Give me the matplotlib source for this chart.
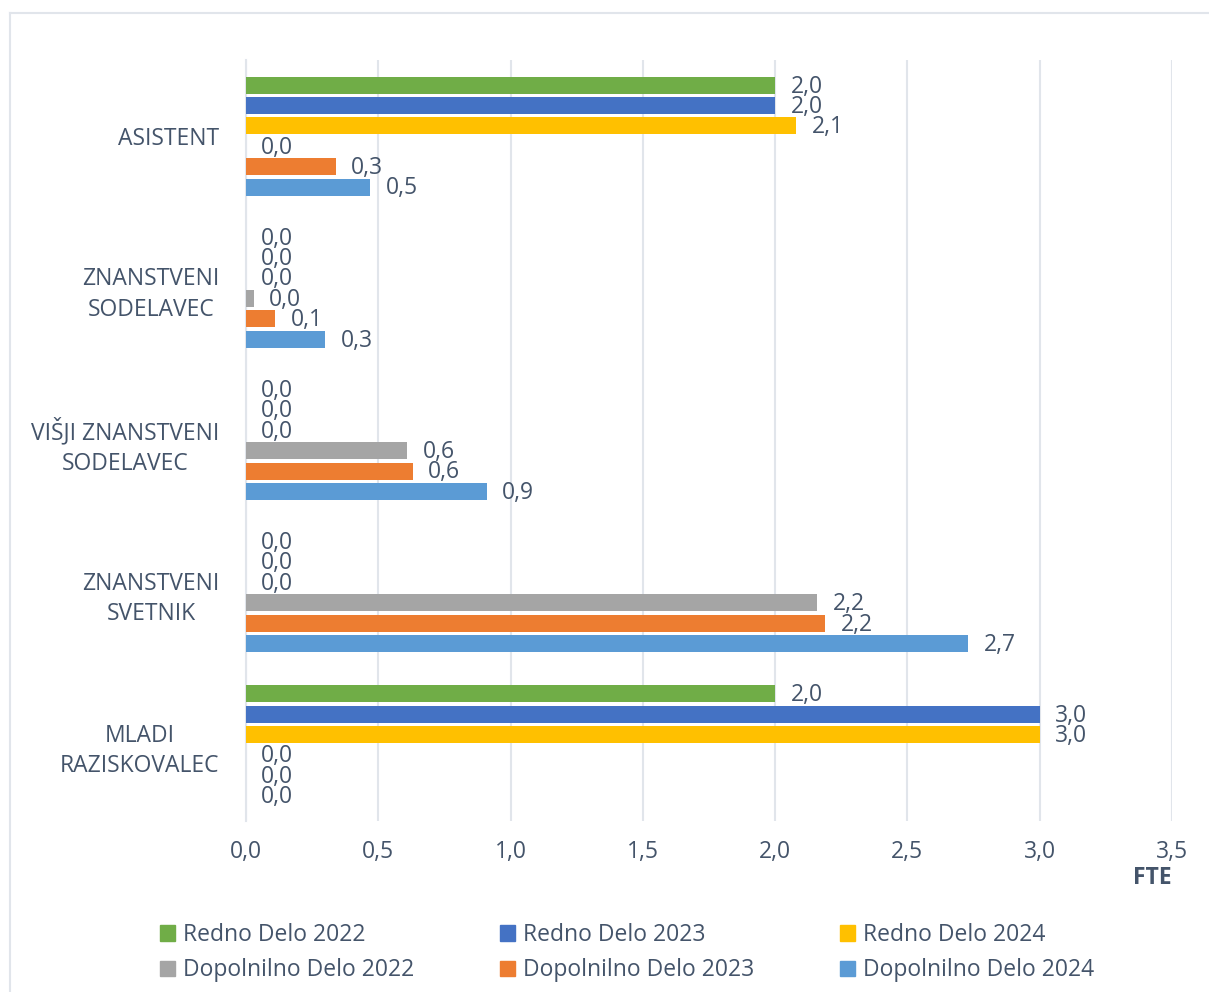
import matplotlib
matplotlib.use("Agg")
import matplotlib.pyplot as plt
from matplotlib.lines import Line2D
from matplotlib.patches import Patch
import numpy as np

plt.rcParams['font.family'] = ['Open Sans', 'DejaVu Sans']

categories = ["ASISTENT", "ZNANSTVENI\nSODELAVEC", "VIŠJI ZNANSTVENI\nSODELAVEC",
              "ZNANSTVENI\nSVETNIK", "MLADI\nRAZISKOVALEC"]

series_names = ["Redno Delo 2022", "Redno Delo 2023", "Redno Delo 2024",
                "Dopolnilno Delo 2022", "Dopolnilno Delo 2023", "Dopolnilno Delo 2024"]
colors = ["#70AD47", "#4472C4", "#FFC000", "#A5A5A5", "#ED7D31", "#5B9BD5"]

redno_2022 = [2.0, 0.0, 0.0, 0.0, 2.0]
redno_2023 = [2.0, 0.0, 0.0, 0.0, 3.0]
redno_2024 = [2.08, 0.0, 0.0, 0.0, 3.0]
dopol_2022 = [0.0, 0.03, 0.61, 2.16, 0.0]
dopol_2023 = [0.34, 0.11, 0.63, 2.19, 0.0]
dopol_2024 = [0.47, 0.30, 0.91, 2.73, 0.0]
series = [redno_2022, redno_2023, redno_2024, dopol_2022, dopol_2023, dopol_2024]

txt = "#44546A"
grid_c = "#E1E5EB"
fs = 16.5

fig = plt.figure(figsize=(12.09, 9.92), dpi=100)
ax = fig.add_axes([246/1209, 1 - 821/992, 926/1209, 761/992])

# light frame around the chart (top and left only visible)
fig.add_artist(Line2D([10/1209, 1.0], [1 - 13/992, 1 - 13/992], color=grid_c, lw=1.5,
                      transform=fig.transFigure))
fig.add_artist(Line2D([10/1209, 10/1209], [0.0, 1 - 13/992], color=grid_c, lw=1.5,
                      transform=fig.transFigure))

y = np.arange(len(categories))
step = 0.134
h = 0.112
for i, vals in enumerate(series):
    pos = y + (i - 2.5) * step
    ax.barh(pos, vals, height=h, color=colors[i], label=series_names[i], zorder=3)
    for p, v in zip(pos, vals):
        ax.annotate(f"{v:.1f}".replace(".", ","), xy=(v, p), xytext=(11, -1),
                    textcoords="offset points", ha="left", va="center",
                    fontsize=fs, color=txt, zorder=4)

ax.set_xlim(0, 3.5)
ax.set_ylim(4.5, -0.5)
ax.set_xticks(np.arange(0, 3.51, 0.5))
ax.set_xticklabels([f"{t:.1f}".replace(".", ",") for t in np.arange(0, 3.51, 0.5)])
ax.set_yticks(y)
ax.set_yticklabels(categories, multialignment="center", linespacing=1.35)
ax.tick_params(axis="both", length=0, labelsize=fs, labelcolor=txt)
ax.tick_params(axis="x", pad=14)
ax.tick_params(axis="y", pad=19)
ax.grid(axis="x", color=grid_c, lw=1.5, zorder=0)
for s in ["top", "right", "bottom"]:
    ax.spines[s].set_visible(False)
ax.spines["left"].set_color(grid_c)
ax.spines["left"].set_linewidth(1.5)

fig.text(1152/1209, 1 - 878/992, "FTE", ha="center", va="center", fontsize=fs,
         fontweight="bold", color=txt)

handles = [Patch(color=c) for c in colors]
order = [0, 3, 1, 4, 2, 5]
fig.legend([handles[k] for k in order], [series_names[k] for k in order],
           ncol=3, loc="upper left", bbox_to_anchor=(144/1209, 1 - 907/992), frameon=False,
           fontsize=fs, labelcolor=txt, handlelength=0.65, handleheight=0.65,
           handletextpad=0.35, columnspacing=3.75, labelspacing=0.5, borderpad=0.2)

fig.savefig("out.png", dpi=100)
